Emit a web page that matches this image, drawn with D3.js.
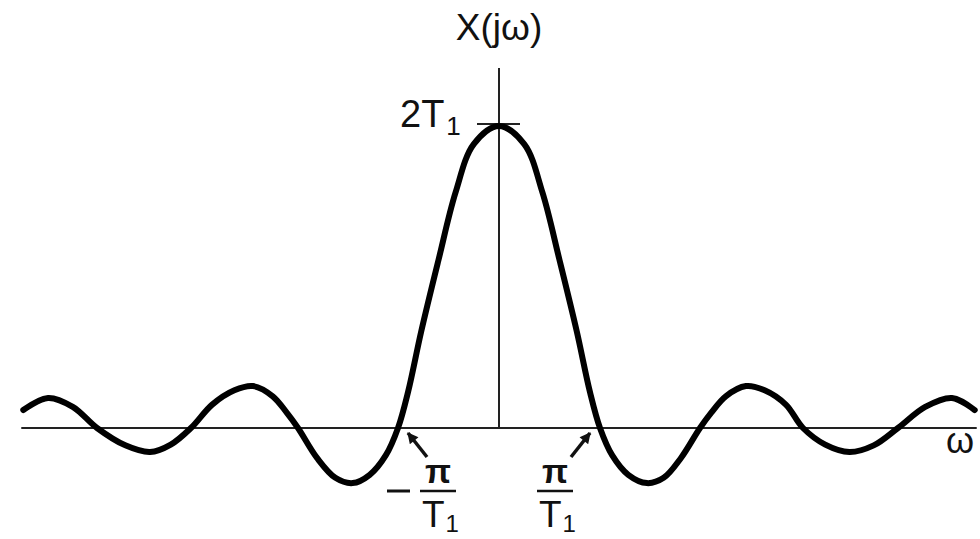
<!DOCTYPE html>
<html>
<head>
<meta charset="utf-8">
<script src="https://cdn.jsdelivr.net/npm/d3@7"></script>
<style>
  html, body { margin: 0; padding: 0; background: #fff; }
  svg text { font-family: "Liberation Sans", Arial, Helvetica, sans-serif; fill: #111; }
</style>
</head>
<body>
<svg id="chart" width="980" height="539"></svg>
<script>
// omega in units of pi/T1, value in units of T1
const omega = [-4.71, -4.465, -4.22, -3.98, -3.70, -3.455, -3.25, -3.05, -2.84, -2.62, -2.436, -2.24, -2.10, -1.99,
               -1.80, -1.62, -1.45, -1.28, -1.12, -1.0, -0.90, -0.77, -0.60, -0.43, -0.25, 0,
               0.25, 0.43, 0.60, 0.77, 0.90, 1.0, 1.12, 1.28, 1.465, 1.63, 1.80,
               1.99, 2.10, 2.245, 2.445, 2.63, 2.84, 3.01, 3.23, 3.47, 3.71, 3.95, 4.22, 4.485, 4.71];
const values = [0.119, 0.199, 0.14, 0, -0.115, -0.159, -0.11, 0, 0.155, 0.25, 0.278, 0.21, 0.10, 0,
                -0.20, -0.33, -0.365, -0.31, -0.18, 0, 0.24, 0.64, 1.11, 1.56, 1.88, 2.0,
                1.88, 1.56, 1.11, 0.64, 0.24, 0, -0.18, -0.31, -0.365, -0.33, -0.20,
                0, 0.10, 0.21, 0.278, 0.25, 0.155, 0, -0.11, -0.159, -0.115, 0, 0.14, 0.199, 0.119];
const yTickLabel = "2T";
const xTickOmega = [-1, 1];

const svg = d3.select("#chart");
const x = d3.scaleLinear().domain([-1, 1]).range([398, 600]);
const y = d3.scaleLinear().domain([0, 2]).range([428, 126]);

// axes
svg.append("line").attr("x1", x(-4.73)).attr("x2", x(4.73)).attr("y1", y(0)).attr("y2", y(0))
  .attr("stroke", "#222").attr("stroke-width", 2);
svg.append("line").attr("x1", x(0)).attr("x2", x(0)).attr("y1", 68).attr("y2", y(0))
  .attr("stroke", "#222").attr("stroke-width", 2);
// tick at 2T1
svg.append("line").attr("x1", x(0) - 22).attr("x2", x(0) + 21).attr("y1", y(2) - 2).attr("y2", y(2) - 2)
  .attr("stroke", "#222").attr("stroke-width", 2);

// curve
const pts = omega.map((w, i) => [w, values[i]]);
const line = d3.line().x(d => x(d[0])).y(d => y(d[1])).curve(d3.curveCatmullRom.alpha(0.5));
svg.append("path").attr("d", line(pts)).attr("fill", "none").attr("stroke", "#000")
  .attr("stroke-width", 6).attr("stroke-linecap", "round");

// labels
svg.append("text").attr("x", x(0)).attr("y", 40).attr("text-anchor", "middle")
  .attr("font-size", 37).text("X(jω)");
const yl = svg.append("text").attr("x", 400).attr("y", 127).attr("font-size", 38);
yl.append("tspan").text(yTickLabel);
yl.append("tspan").attr("font-size", 26).attr("dy", 8).attr("dx", 2).text("1");

svg.append("text").attr("x", 960).attr("y", 453).attr("text-anchor", "middle")
  .attr("font-size", 36).text("ω");

// arrowhead marker
svg.append("defs").append("marker").attr("id", "ah").attr("viewBox", "0 0 10 10")
  .attr("refX", 9).attr("refY", 5).attr("markerWidth", 14).attr("markerHeight", 11)
  .attr("orient", "auto").attr("markerUnits", "userSpaceOnUse")
  .append("path").attr("d", "M0,0 L10,5 L0,10 z").attr("fill", "#111");

xTickOmega.forEach(w => {
  const cx = x(w);
  const sgn = w < 0 ? 1 : -1;
  // arrow
  svg.append("line")
    .attr("x1", cx + sgn * 29).attr("y1", 457)
    .attr("x2", cx + sgn * 10).attr("y2", 433)
    .attr("stroke", "#111").attr("stroke-width", 3.5)
    .attr("marker-end", "url(#ah)");
  // fraction
  const fx = w < 0 ? cx + 40 : cx - 45;
  svg.append("text").attr("x", fx).attr("y", 483).attr("text-anchor", "middle")
    .attr("font-size", 34).attr("font-weight", "bold").text("π");
  svg.append("line").attr("x1", fx - 18).attr("x2", fx + 18).attr("y1", 491).attr("y2", 491)
    .attr("stroke", "#111").attr("stroke-width", 2.5);
  const t = svg.append("text").attr("x", fx - 16).attr("y", 527).attr("font-size", 37);
  t.append("tspan").text("T");
  t.append("tspan").attr("font-size", 24).attr("dy", 5).attr("dx", 1).text("1");
  if (w < 0) {
    svg.append("line").attr("x1", cx - 11).attr("x2", cx + 12).attr("y1", 491).attr("y2", 491)
      .attr("stroke", "#111").attr("stroke-width", 3);
  }
});
</script>
</body>
</html>
